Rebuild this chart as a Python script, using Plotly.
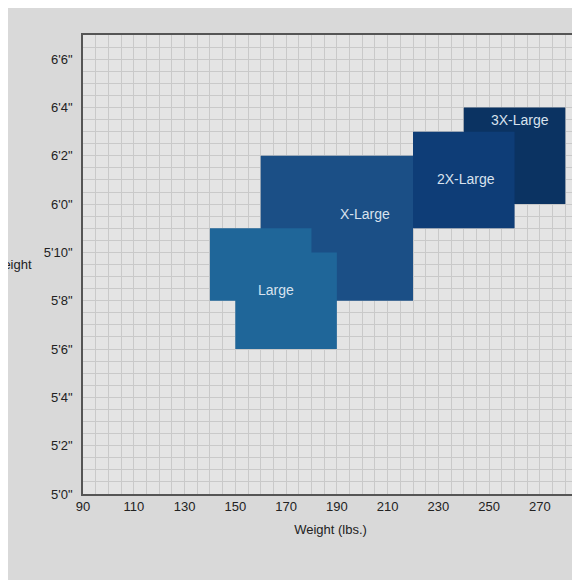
import plotly.graph_objects as go

# size regions as polygons (weight lbs, height inches)
sizes = ["3X-Large", "X-Large", "2X-Large", "Large"]
weights = [
    [240, 280, 280, 240],
    [160, 220, 220, 160],
    [220, 260, 260, 220],
    [140, 180, 180, 190, 190, 150, 150, 140],
]
heights = [
    [76, 76, 72, 72],
    [74, 74, 68, 68],
    [75, 75, 71, 71],
    [71, 71, 70, 70, 66, 66, 68, 68],
]
colors = ["#0b3362", "#1b4f86", "#0e3d77", "#1f6699"]
label_x = [262, 201, 241, 166]
label_y = [75.5, 71.6, 73.05, 68.45]

height_ticks = [60, 62, 64, 66, 68, 70, 72, 74, 76, 78]
height_labels = ['5\'0"', '5\'2"', '5\'4"', '5\'6"', '5\'8"', '5\'10"',
                 '6\'0"', '6\'2"', '6\'4"', '6\'6"']
weight_ticks = [90, 110, 130, 150, 170, 190, 210, 230, 250, 270]

fig = go.Figure()
for i, name in enumerate(sizes):
    fig.add_trace(go.Scatter(x=weights[i], y=heights[i], fill="toself",
                             fillcolor=colors[i], mode="lines",
                             line=dict(width=0), hoverinfo="skip"))
for i, name in enumerate(sizes):
    fig.add_annotation(x=label_x[i], y=label_y[i], text=name, showarrow=False,
                       font=dict(color="#d8e2ee", size=14))

fig.add_annotation(x=-0.1, xref="paper", y=69.5, yref="y", text="Height",
                   showarrow=False, xanchor="right",
                   font=dict(size=13, color="#222"))

grid = dict(showgrid=True, gridcolor="#c9c9c9", gridwidth=1)
fig.update_xaxes(range=[90, 285], tickvals=weight_ticks, **grid,
                 minor=dict(dtick=5, showgrid=True, gridcolor="#c9c9c9"),
                 showline=True, linecolor="#555", linewidth=1.5, mirror=True,
                 ticks="", zeroline=False,
                 title=dict(text="Weight (lbs.)", standoff=12,
                            font=dict(size=13, color="#222")),
                 tickfont=dict(size=13, color="#222"))
fig.update_yaxes(range=[60, 79], tickvals=height_ticks, ticktext=height_labels,
                 **grid, minor=dict(dtick=0.5, showgrid=True, gridcolor="#c9c9c9"),
                 showline=True, linecolor="#555", linewidth=1.5, mirror=True,
                 ticks="", zeroline=False, ticklabelstandoff=6,
                 tickfont=dict(size=13, color="#222"))
fig.update_layout(width=580, height=580, showlegend=False,
                  margin=dict(l=75, r=8, t=27, b=94),
                  paper_bgcolor="#d9d9d9", plot_bgcolor="#e4e4e4",
                  font=dict(family="Liberation Sans, Arial, sans-serif"))
fig.write_html("out.html")
